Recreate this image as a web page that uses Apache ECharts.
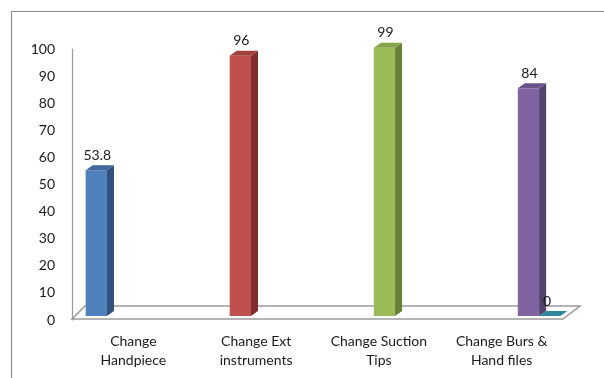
<!DOCTYPE html>
<html>
<head>
<meta charset="utf-8">
<script src="https://cdn.jsdelivr.net/npm/echarts@6/dist/echarts.min.js"></script>
<style>
html,body{margin:0;padding:0;background:#fff;}
#chart{width:604px;height:378px;}
</style>
</head>
<body>
<div id="chart"></div>
<script>
// ---- data ----
var categories = ['Change\nHandpiece', 'Change Ext\ninstruments', 'Change Suction\nTips', 'Change Burs &\nHand files'];
var seriesA = [53.8, null, null, null];
var seriesB = [null, 96, null, null];
var seriesC = [null, null, 99, null];
var seriesD = [null, null, null, 84];
var seriesE = [null, null, null, 0];
var yTicks = [0, 10, 20, 30, 40, 50, 60, 70, 80, 90, 100];

var seriesList = [seriesA, seriesB, seriesC, seriesD, seriesE];
var palette = [
  {front: '#4F81BD', side: '#30527C', top: '#41699A'},
  {front: '#C0504D', side: '#7D2F2D', top: '#A03F3C'},
  {front: '#9BBB59', side: '#687F38', top: '#86A549'},
  {front: '#8064A2', side: '#54416C', top: '#6B5389'},
  {front: '#4BACC6', side: '#2E7688', top: '#31869D'}
];
var FONT = '14px Lato';

function makeRender(k) {
  return function (params, api) {
    var cat = api.value(0), val = api.value(1);
    var band = api.size([1, 0])[0];
    var w = band * 0.1735;
    var base = api.coord([cat, 0]);
    var topPt = api.coord([cat, val]);
    var lift = 4;
    var x0 = base[0] + band * 0.045 + (k - 2) * w - w / 2;
    var x1 = x0 + w;
    var yb = base[1] - lift;
    var yt = topPt[1] - lift;
    var dx = w * 0.33, dy = -5;
    var c = palette[k];
    var children = [];
    if (yb - yt > 0.5) {
      children.push({type: 'polygon', shape: {points: [[x0, yt], [x1, yt], [x1, yb], [x0, yb]]}, style: {fill: c.front}});
      children.push({type: 'polygon', shape: {points: [[x1, yt], [x1 + dx, yt + dy], [x1 + dx, yb + dy], [x1, yb]]}, style: {fill: c.side}});
    }
    children.push({type: 'polygon', shape: {points: [[x0, yt], [x1, yt], [x1 + dx, yt + dy], [x0 + dx, yt + dy]]}, style: {fill: c.top}});
    var lx = (yb - yt > 0.5) ? (x0 + x1) / 2 + 1 : x0 + 8;
    children.push({type: 'text', style: {text: String(val), x: lx, y: yt - 15, align: 'center', verticalAlign: 'middle', font: FONT, fill: '#1a1a1a'}});
    return {type: 'group', children: children};
  };
}

function floorRender(params, api) {
  var cs = params.coordSys;
  var yF = cs.y + cs.height - 1;
  var yB = yF - 13;
  var pts = [[cs.x, yF], [cs.x + 13, yB], [cs.x + cs.width + 17, yB], [cs.x + cs.width, yF]];
  return {type: 'polygon', shape: {points: pts}, style: {fill: '#fff', stroke: '#9a9a9a', lineWidth: 1.5}};
}

var series = [{
  type: 'custom', renderItem: floorRender, data: [[0, 0]], encode: {x: 0, y: 1}, silent: true, z: 1
}];
seriesList.forEach(function (arr, k) {
  var d = [];
  arr.forEach(function (v, i) { if (v !== null) d.push([i, v]); });
  series.push({type: 'custom', renderItem: makeRender(k), data: d, encode: {x: 0, y: 1}, z: 2 + k});
});

var chart = echarts.init(document.getElementById('chart'), null, {renderer: 'canvas'});
chart.setOption({
  animation: false,
  backgroundColor: '#fff',
  graphic: [{
    type: 'rect', shape: {x: 11.5, y: 11.5, width: 700, height: 500},
    style: {fill: 'none', stroke: '#8c8c8c', lineWidth: 1.2}, z: 0, silent: true
  }],
  grid: {left: 72, right: 41, top: 49, bottom: 58},
  xAxis: {
    type: 'category', data: categories,
    axisLine: {show: false}, axisTick: {show: false},
    axisLabel: {margin: 12, fontFamily: 'Lato', fontSize: 14, color: '#1a1a1a', lineHeight: 19, interval: 0}
  },
  yAxis: {
    type: 'value', min: yTicks[0], max: yTicks[yTicks.length - 1], interval: yTicks[1] - yTicks[0],
    axisLine: {show: true, lineStyle: {color: '#9a9a9a', width: 1.2}},
    axisTick: {show: false}, splitLine: {show: false},
    axisLabel: {margin: 17, fontFamily: 'Lato', fontSize: 14, color: '#1a1a1a'}
  },
  series: series
});
</script>
</body>
</html>
